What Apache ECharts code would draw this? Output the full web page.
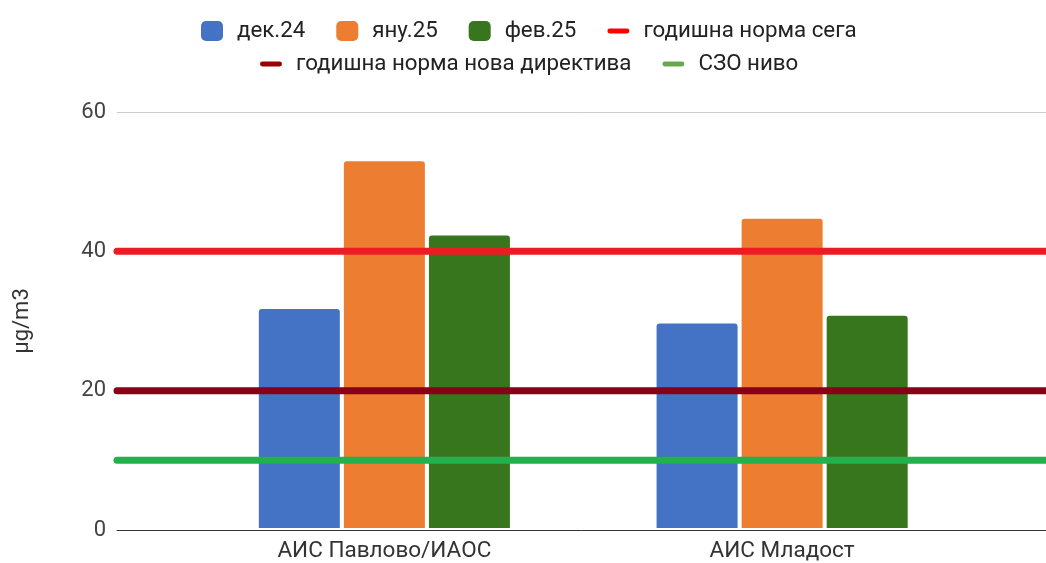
<!DOCTYPE html>
<html>
<head>
<meta charset="utf-8">
<script src="https://cdn.jsdelivr.net/npm/echarts@6/dist/echarts.min.js"></script>
<style>
    html, body { margin: 0; padding: 0; background: #fff; }
    #chart { width: 1046px; height: 563px; }
</style>
</head>
<body>
<div id="chart"></div>
<script>
var categories = ['АИС Павлово/ИАОС', 'АИС Младост'];
var dec24 = [31.6, 29.5];
var jan25 = [52.9, 44.6];
var feb25 = [42.2, 30.6];
var normNow = [40, 40];
var normNew = [20, 20];
var whoLevel = [10, 10];
var yTicks = [0, 20, 40, 60];

var font = 'Roboto';
var chart = echarts.init(document.getElementById('chart'));

// thin rounded bar for the line entries of the legend
var lineIcon = 'path://M2.5,0 H20.5 A2.5,2.5 0 0 1 20.5,5 H2.5 A2.5,2.5 0 0 1 2.5,0 Z';
var barStyle = { borderRadius: [3, 3, 0, 0] };
var legendText = { fontSize: 22.3, color: '#222', padding: [0, 0, 0, 9] };

var option = {
    animation: false,
    textStyle: { fontFamily: font },
    legend: [{
        top: 20,
        left: 201,
        padding: 0,
        itemWidth: 22,
        itemHeight: 20,
        itemGap: 31,
        textStyle: legendText,
        data: [
            { name: 'дек.24', icon: 'roundRect' },
            { name: 'яну.25', icon: 'roundRect' },
            { name: 'фев.25', icon: 'roundRect' },
            { name: 'годишна норма сега', icon: lineIcon, itemStyle: { color: '#ff0000' } }
        ]
    }, {
        top: 53,
        left: 260,
        padding: 0,
        itemWidth: 22,
        itemHeight: 20,
        itemGap: 31,
        textStyle: legendText,
        data: [
            { name: 'годишна норма нова директива', icon: lineIcon, itemStyle: { color: '#990000' } },
            { name: 'СЗО ниво', icon: lineIcon, itemStyle: { color: '#6aa84f' } }
        ]
    }],
    grid: [
        { left: 117, right: 0, top: 112, bottom: 33 },
        { left: 185.5, right: 65, top: 112, bottom: 33 }
    ],
    xAxis: [{
        type: 'category',
        gridIndex: 0,
        data: categories,
        boundaryGap: false,
        axisTick: { show: false },
        axisLabel: { show: false },
        axisLine: { lineStyle: { color: '#333', width: 1 } }
    }, {
        type: 'category',
        gridIndex: 1,
        data: categories,
        axisTick: { show: false },
        axisLine: { show: false },
        axisLabel: { fontSize: 22.5, color: '#333', margin: 12 }
    }],
    yAxis: [{
        type: 'value',
        gridIndex: 0,
        min: yTicks[0],
        max: yTicks[yTicks.length - 1],
        interval: 20,
        name: 'μg/m3',
        nameLocation: 'middle',
        nameRotate: 90,
        nameGap: 84,
        nameTextStyle: { fontSize: 22, color: '#333' },
        axisLabel: { fontSize: 22, color: '#444', margin: 11 },
        splitLine: { lineStyle: { color: '#cccccc', width: 1 } }
    }, {
        type: 'value',
        gridIndex: 1,
        min: yTicks[0],
        max: yTicks[yTicks.length - 1],
        interval: 20,
        show: false,
        splitLine: { show: false }
    }],
    series: [{
        name: 'дек.24',
        type: 'bar',
        xAxisIndex: 1,
        yAxisIndex: 1,
        barWidth: 81,
        barGap: '5%',
        itemStyle: Object.assign({ color: '#4472c4' }, barStyle),
        data: dec24
    }, {
        name: 'яну.25',
        type: 'bar',
        xAxisIndex: 1,
        yAxisIndex: 1,
        barWidth: 81,
        barGap: '5%',
        itemStyle: Object.assign({ color: '#ed7d31' }, barStyle),
        data: jan25
    }, {
        name: 'фев.25',
        type: 'bar',
        xAxisIndex: 1,
        yAxisIndex: 1,
        barWidth: 81,
        barGap: '5%',
        itemStyle: Object.assign({ color: '#38761d' }, barStyle),
        data: feb25
    }, {
        name: 'годишна норма сега',
        type: 'line',
        symbol: 'none',
        z: 5,
        lineStyle: { color: '#ed1c24', width: 7, cap: 'round' },
        itemStyle: { color: '#ed1c24' },
        data: normNow
    }, {
        name: 'годишна норма нова директива',
        type: 'line',
        symbol: 'none',
        z: 5,
        lineStyle: { color: '#880015', width: 7, cap: 'round' },
        itemStyle: { color: '#880015' },
        data: normNew
    }, {
        name: 'СЗО ниво',
        type: 'line',
        symbol: 'none',
        z: 5,
        lineStyle: { color: '#22b14c', width: 7, cap: 'round' },
        itemStyle: { color: '#22b14c' },
        data: whoLevel
    }]
};

chart.setOption(option);
</script>
</body>
</html>
